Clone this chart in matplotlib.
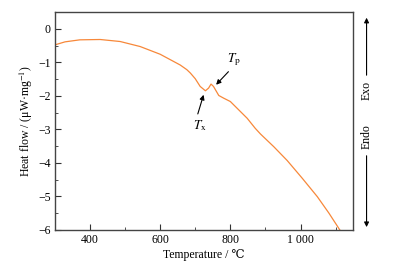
import numpy as np
import matplotlib
matplotlib.use('Agg')
import matplotlib.pyplot as plt
from matplotlib.ticker import MultipleLocator, FuncFormatter

plt.rcParams['font.family'] = ['Liberation Serif', 'DejaVu Serif']
plt.rcParams['mathtext.fontset'] = 'stix'

# DSC curve
temp = [300, 329, 371, 429, 486, 543, 600, 657, 676, 686, 700, 714, 729, 738,
        745, 752, 767, 781, 800, 824, 848, 871, 886, 924, 962, 1005, 1048, 1081, 1112]
heat = [-0.48, -0.39, -0.33, -0.32, -0.38, -0.53, -0.76, -1.08, -1.22, -1.32, -1.49,
        -1.72, -1.85, -1.77, -1.65, -1.72, -1.99, -2.07, -2.17, -2.42, -2.67, -2.97,
        -3.14, -3.52, -3.93, -4.46, -5.01, -5.50, -6.0]

xticks = [400, 600, 800, 1000]
yticks = [0, -1, -2, -3, -4, -5, -6]

fig = plt.figure(figsize=(3.95, 2.67), dpi=100)
ax = fig.add_axes([0.139, 0.139, 0.755, 0.816])

ax.plot(temp, heat, color='#f7883a', lw=0.9)

ax.set_xlim(300, 1150)
ax.set_ylim(-6, 0.5)
ax.set_xticks(xticks)
ax.set_yticks(yticks)
ax.xaxis.set_minor_locator(MultipleLocator(100))
ax.yaxis.set_minor_locator(MultipleLocator(0.5))
ax.xaxis.set_major_formatter(FuncFormatter(lambda v, p: '1 000' if v == 1000 else '%d' % v))
ax.yaxis.set_major_formatter(FuncFormatter(lambda v, p: ('\u2212%d' % -v) if v < 0 else '%d' % v))
ax.tick_params(which='both', direction='in', labelsize=8.5, color='#333333', pad=3)
ax.tick_params(which='major', length=4)
ax.tick_params(which='minor', length=2.5)
for s in ax.spines.values():
    s.set_color('#444444')
    s.set_linewidth(1.0)

ax.set_xlabel('Temperature / \u2103', fontsize=8.5, labelpad=2)
ax.set_ylabel('Heat flow / (\u03bcW\u00b7mg$^{-1}$)', fontsize=8.5, labelpad=2)

# T_p and T_x markers
ax.annotate('', xy=(754, -1.73), xytext=(800, -1.22),
            arrowprops=dict(arrowstyle='-|>', color='black', lw=0.8, mutation_scale=7))
ax.text(809, -0.93, '$T_{\\mathrm{p}}$', fontsize=9.5, ha='center', va='center')
ax.annotate('', xy=(726, -1.89), xytext=(705, -2.62),
            arrowprops=dict(arrowstyle='-|>', color='black', lw=0.8, mutation_scale=7))
ax.text(712, -2.9, '$T_{\\mathrm{x}}$', fontsize=9.5, ha='center', va='center')

# Exo / Endo arrows
xa = 0.928
fig.add_artist(matplotlib.patches.FancyArrowPatch((xa, 0.708), (xa, 0.944), transform=fig.transFigure,
               arrowstyle='-|>', mutation_scale=7, color='black', lw=0.8))
fig.add_artist(matplotlib.patches.FancyArrowPatch((xa, 0.427), (xa, 0.139), transform=fig.transFigure,
               arrowstyle='-|>', mutation_scale=7, color='black', lw=0.8))
fig.text(xa, 0.663, 'Exo', rotation=90, ha='center', va='center', fontsize=8.5)
fig.text(xa, 0.487, 'Endo', rotation=90, ha='center', va='center', fontsize=8.5)

fig.savefig('out.png', dpi=100)
